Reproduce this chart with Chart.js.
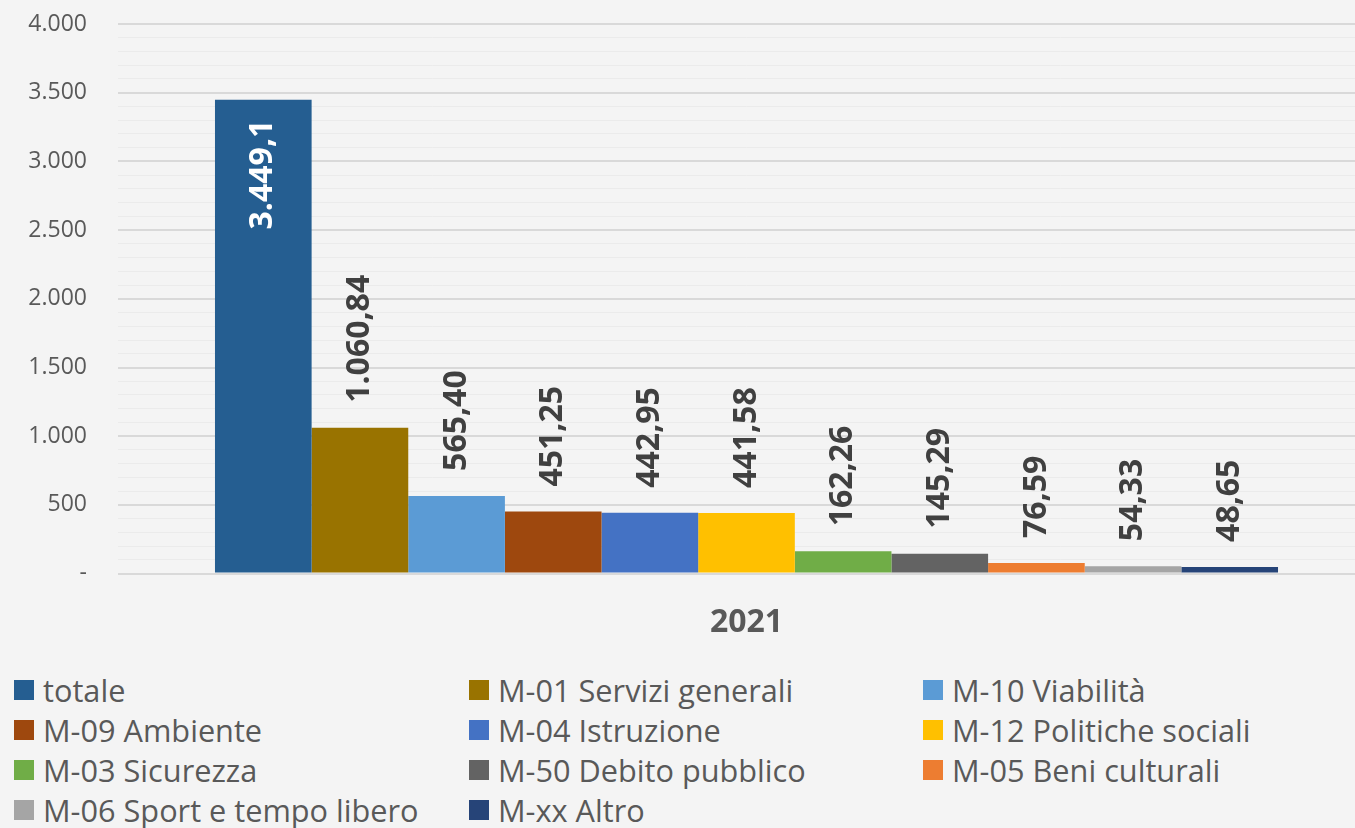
<!DOCTYPE html>
<html lang="it">
<head>
<meta charset="utf-8">
<title>Spesa per missione 2021</title>
<script src="https://cdn.jsdelivr.net/npm/chart.js@4/dist/chart.umd.min.js"></script>
<style>
  html, body { margin: 0; padding: 0; background: #f4f4f4; overflow: hidden; }
  body { width: 1355px; height: 828px; position: relative; font-family: "Open Sans", sans-serif; }
  #chartBox { position: absolute; left: 0; top: 0; width: 1375px; height: 665px; }
  #legend { position: absolute; left: 0; top: 670px; width: 1355px; }
  .leg-item { position: absolute; height: 40px; display: flex; align-items: center;
              font-size: 30.7px; color: #595959; white-space: nowrap; }
  .leg-box { width: 20px; height: 20px; margin-right: 9px; flex: none; }
</style>
</head>
<body>
<div id="chartBox"><canvas id="spesaChart"></canvas></div>
<div id="legend"></div>

<script>
// Dati del grafico
const categories = ["2021"];
const seriesNames = [
  "totale", "M-01 Servizi generali", "M-10 Viabilità", "M-09 Ambiente",
  "M-04 Istruzione", "M-12 Politiche sociali", "M-03 Sicurezza",
  "M-50 Debito pubblico", "M-05 Beni culturali", "M-06 Sport e tempo libero", "M-xx Altro"
];
const seriesValues = [3449.1, 1060.84, 565.40, 451.25, 442.95, 441.58, 162.26, 145.29, 76.59, 54.33, 48.65];
const valueDecimals = [1, 2, 2, 2, 2, 2, 2, 2, 2, 2, 2];
const seriesColors = [
  "#255e91", "#997300", "#5b9bd5", "#9e480e", "#4472c4", "#ffc000",
  "#70ad47", "#636363", "#ed7d31", "#a5a5a5", "#264478"
];
const yMin = 0, yMax = 4000, yMajor = 500, yMinor = 100;

// Formattazione all'italiana (punto migliaia, virgola decimali)
function formatIt(v, dec) {
  const parts = v.toFixed(dec).split(".");
  parts[0] = parts[0].replace(/\B(?=(\d{3})+(?!\d))/g, ".");
  return parts.join(",");
}

// Etichette verticali sulle barre
const valueLabels = {
  id: "valueLabels",
  afterDatasetsDraw(chart) {
    const ctx = chart.ctx;
    const top = chart.chartArea.top;
    ctx.save();
    ctx.font = "bold 32px 'Open Sans', sans-serif";
    ctx.textBaseline = "middle";
    chart.data.datasets.forEach((ds, i) => {
      const bar = chart.getDatasetMeta(i).data[0];
      if (!bar) return;
      const text = formatIt(ds.data[0], valueDecimals[i]);
      const w = ctx.measureText(text).width;
      const inside = bar.y - 24 - w < top;
      ctx.save();
      if (inside) {
        ctx.translate(bar.x, bar.y + 20);
        ctx.rotate(-Math.PI / 2);
        ctx.textAlign = "right";
        ctx.fillStyle = "#ffffff";
      } else {
        ctx.translate(bar.x, bar.y - 25);
        ctx.rotate(-Math.PI / 2);
        ctx.textAlign = "left";
        ctx.fillStyle = "#404040";
      }
      ctx.fillText(text, 0, 0);
      ctx.restore();
    });
    ctx.restore();
  }
};

function buildLegend(chart) {
  const box = document.getElementById("legend");
  const colX = [14, 469, 923];
  chart.data.datasets.forEach((ds, i) => {
    const item = document.createElement("div");
    item.className = "leg-item";
    item.style.left = colX[i % 3] + "px";
    item.style.top = (Math.floor(i / 3) * 40) + "px";
    const sw = document.createElement("span");
    sw.className = "leg-box";
    sw.style.background = ds.backgroundColor;
    const label = document.createElement("span");
    label.textContent = ds.label;
    item.appendChild(sw);
    item.appendChild(label);
    box.appendChild(item);
  });
}

document.addEventListener("DOMContentLoaded", () => {
  const ctx = document.getElementById("spesaChart").getContext("2d");
  const chart = new Chart(ctx, {
    type: "bar",
    data: {
      labels: categories,
      datasets: seriesNames.map((name, i) => ({
        label: name,
        data: [seriesValues[i]],
        backgroundColor: seriesColors[i],
        borderWidth: 0,
        barPercentage: 1,
        categoryPercentage: 0.8457
      }))
    },
    options: {
      responsive: true,
      maintainAspectRatio: false,
      animation: false,
      layout: { padding: { top: 24, bottom: 1, left: 0, right: 0 } },
      plugins: { legend: { display: false }, tooltip: { enabled: false } },
      scales: {
        x: {
          grid: { display: false },
          border: { display: false },
          ticks: {
            color: "#595959",
            padding: 22,
            font: { family: "'Open Sans', sans-serif", size: 32, weight: "bold" }
          }
        },
        y: {
          min: yMin,
          max: yMax,
          border: { display: false },
          afterFit(scale) {
            scale.width = 118;
            scale.paddingTop = 0;
            scale.paddingBottom = 0;
          },
          grid: {
            drawTicks: false,
            color: c => (c.tick && c.tick.value % yMajor === 0) ? "#d9d9d9" : "#ebebeb",
            lineWidth: c => (c.tick && c.tick.value % yMajor === 0) ? 2 : 1
          },
          ticks: {
            stepSize: yMinor,
            autoSkip: false,
            padding: 31,
            color: "#595959",
            font: { family: "'Open Sans', sans-serif", size: 23 },
            callback: v => v % yMajor !== 0 ? "" : (v === 0 ? "-" : formatIt(v, 0))
          }
        }
      }
    },
    plugins: [valueLabels]
  });
  buildLegend(chart);
});
</script>
</body>
</html>
